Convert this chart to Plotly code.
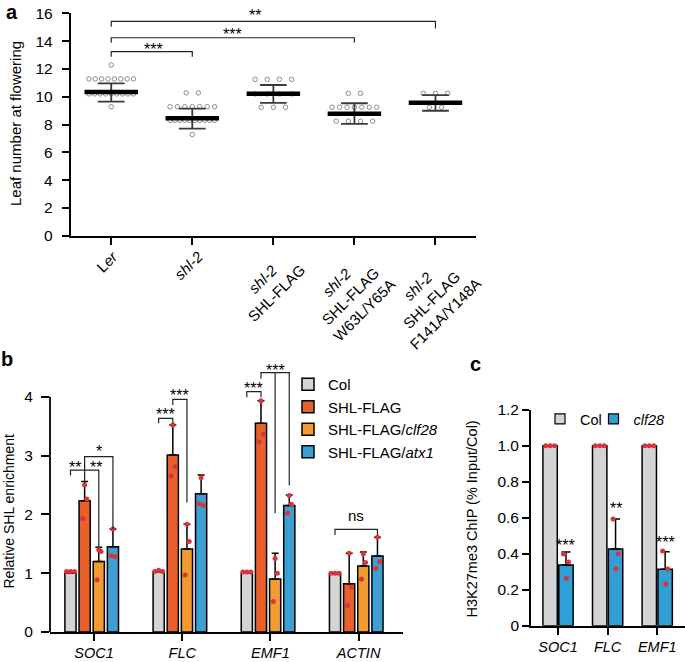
import plotly.graph_objects as go

FIG_W, FIG_H = 685, 662
FONT = "Liberation Sans, Arial, Helvetica, sans-serif"


def fx(px):
    return px / FIG_W


def fy(py):
    return 1 - py / FIG_H


# ======================= Panel a data =======================
a_ticktext = ["L<i>er</i>", "<i>shl-2</i>", "<i>shl-2</i><br>SHL-FLAG",
              "<i>shl-2</i><br>SHL-FLAG<br>W63L/Y65A",
              "<i>shl-2</i><br>SHL-FLAG<br>F141A/Y148A"]
a_ler = [12.28,
         11.28, 11.28, 11.28, 11.28, 11.28, 11.28, 11.28, 11.28,
         10.2, 10.2, 10.2, 10.2, 10.2, 10.2, 10.2, 10.2, 10.2,
         9.28]
a_shl2 = [10.28, 10.28,
          9.28, 9.28, 9.28, 9.28, 9.28, 9.28, 9.28,
          8.3, 8.3, 8.3, 8.3, 8.3, 8.3, 8.3, 8.3, 8.3, 8.3,
          7.28]
a_shl_flag = [11.25, 11.25, 11.25, 11.25,
              10.2, 10.2, 10.2, 10.2,
              9.24, 9.24, 9.24]
a_w63l = [10.24, 10.24,
          9.24, 9.24, 9.24, 9.24, 9.24, 9.24, 9.24,
          8.24, 8.24, 8.24, 8.24]
a_f141a = [10.24, 10.24, 10.24,
           9.24, 9.24]
a_values = [a_ler, a_shl2, a_shl_flag, a_w63l, a_f141a]
a_mean = [10.34, 8.45, 10.22, 8.78, 9.57]
a_sd_hi = [10.96, 9.14, 10.84, 9.53, 10.12]
a_sd_lo = [9.64, 7.70, 9.55, 8.04, 8.99]
a_yticks = [0, 2, 4, 6, 8, 10, 12, 14, 16]
A_YMAX = 16
# (group1, group2, bracket y, left leg end, right leg end, label, label x, label y)
a_sig = [(0, 1, 13.24, 12.88, 12.88, "***", 0.52, 13.65),
         (0, 3, 14.24, 13.88, 13.90, "***", 1.50, 14.73),
         (0, 4, 15.42, 15.04, 14.90, "**", 1.77, 16.10)]

# ======================= Panel b data =======================
b_ticktext = ["<i>SOC1</i>", "<i>FLC</i>", "<i>EMF1</i>", "<i>ACTIN</i>"]
b_series = ["Col", "SHL-FLAG", "SHL-FLAG/<i>clf28</i>", "SHL-FLAG/<i>atx1</i>"]
b_colors = ["#d4d4d4", "#e8612c", "#f29b30", "#3e9fd2"]
b_col = [1.00, 1.02, 1.00, 1.00]
b_shl = [2.23, 3.01, 3.55, 0.82]
b_clf = [1.20, 1.41, 0.90, 1.12]
b_atx = [1.45, 2.35, 2.15, 1.29]
b_col_err = [0.0, 0.0, 0.0, 0.0]
b_shl_err = [0.33, 0.51, 0.38, 0.52]
b_clf_err = [0.24, 0.42, 0.44, 0.24]
b_atx_err = [0.30, 0.32, 0.18, 0.32]
b_col_pts = [[1.03, 1.03, 1.03], [1.03, 1.05, 1.03], [1.02, 1.02, 1.02], [1.00, 1.00, 1.00]]
b_shl_pts = [[2.50, 2.26, 1.93], [3.52, 2.81, 2.65], [3.93, 3.36, 3.23], [1.34, 0.76, 0.45]]
b_clf_pts = [[1.40, 1.37, 0.89], [1.83, 1.54, 0.97], [1.25, 1.00, 0.52], [1.33, 1.18, 0.90]]
b_atx_pts = [[1.75, 1.28, 1.30], [2.62, 2.15, 2.18], [2.32, 2.17, 2.02], [1.61, 1.20, 1.08]]
b_values = [b_col, b_shl, b_clf, b_atx]
b_errors = [b_col_err, b_shl_err, b_clf_err, b_atx_err]
b_points = [b_col_pts, b_shl_pts, b_clf_pts, b_atx_pts]
b_yticks = [0, 1, 2, 3, 4]
# brackets: list of polylines of (gene, series, y)
b_brackets = [
    [(0, 0, 2.66), (0, 0, 2.75), (0, 2, 2.75), (0, 2, 1.44)],
    [(0, 1, 2.555), (0, 1, 2.98), (0, 3, 2.98), (0, 3, 1.75)],
    [(1, 0, 3.55), (1, 0, 3.63), (1, 1, 3.63), (1, 1, 3.55)],
    [(1, 1, 3.86), (1, 1, 3.955), (1, 2, 3.955), (1, 2, 2.20)],
    [(2, 0, 3.99), (2, 0, 4.085), (2, 1, 4.085), (2, 1, 3.99)],
    [(2, 1, 4.31), (2, 1, 4.41), (2, 3, 4.41), (2, 3, 2.49)],
    [(2, 2, 4.41), (2, 2, 2.02)],
    [(3, 0, 1.65), (3, 0, 1.745), (3, 3, 1.745), (3, 3, 1.65)],
]
# labels: (gene, series a, series b, y, text, px shift)
b_labels = [(0, 0, 1, 2.87, "**", -3), (0, 1, 2, 2.87, "**", 4), (0, 1, 3, 3.13, "*", 0),
            (1, 0, 1, 3.76, "***", 0), (1, 1, 2, 4.09, "***", 0),
            (2, 0, 1, 4.20, "***", 0), (2, 1, 3, 4.51, "***", 0),
            (3, 0, 3, 1.96, "ns", 0)]

# ======================= Panel c data =======================
c_ticktext = ["<i>SOC1</i>", "<i>FLC</i>", "<i>EMF1</i>"]
c_series = ["Col", "<i>clf28</i>"]
c_colors = ["#d4d4d4", "#2f9fd6"]
c_col = [1.0, 1.0, 1.0]
c_clf = [0.337, 0.426, 0.313]
c_clf_err = [0.073, 0.167, 0.098]
c_col_pts = [[1.0, 1.0, 1.0], [1.0, 1.0, 1.0], [1.0, 1.0, 1.0]]
c_clf_pts = [[0.398, 0.354, 0.263], [0.593, 0.400, 0.315], [0.415, 0.315, 0.232]]
c_sig = ["***", "**", "***"]
c_sig_y = [0.467, 0.674, 0.483]
c_yticks = [0, 0.2, 0.4, 0.6, 0.8, 1.0, 1.2]
c_yticktext = ["0", "0.2", "0.4", "0.6", "0.8", "1.0", "1.2"]

DOT_RED = "#d9343a"

fig = go.Figure()

# ---------------- Panel a traces ----------------
def row_offsets(n):
    step = 0.15 if n <= 4 else 0.55 / (n - 1)
    return [(k - (n - 1) / 2) * step for k in range(n)]


for gi, vals in enumerate(a_values):
    rows = {}
    for v in vals:
        rows[v] = rows.get(v, 0) + 1
    xs, ys = [], []
    for v, n in rows.items():
        for off in row_offsets(n):
            xs.append(gi + off)
            ys.append(v)
    fig.add_trace(go.Scatter(x=xs, y=ys, mode="markers", xaxis="x", yaxis="y",
                             marker=dict(symbol="circle-open", size=4.5, color="#8c8c8c",
                                         line=dict(width=1)),
                             showlegend=False, hoverinfo="skip"))

sx, sy = [], []
for gi in range(len(a_mean)):
    for yv in (a_sd_hi[gi], a_sd_lo[gi]):
        sx += [gi - 0.165, gi + 0.165, None]
        sy += [yv, yv, None]
    sx += [gi, gi, None]
    sy += [a_sd_lo[gi], a_sd_hi[gi], None]
fig.add_trace(go.Scatter(x=sx, y=sy, mode="lines", xaxis="x", yaxis="y",
                         line=dict(color="#3a3a3a", width=1.8),
                         showlegend=False, hoverinfo="skip"))
mx, my = [], []
for gi, m in enumerate(a_mean):
    mx += [gi - 0.33, gi + 0.33, None]
    my += [m, m, None]
fig.add_trace(go.Scatter(x=mx, y=my, mode="lines", xaxis="x", yaxis="y",
                         line=dict(color="black", width=4.5),
                         showlegend=False, hoverinfo="skip"))

A_PX_PER_UNIT = (235.7 - 13.3) / A_YMAX
bx_, by_ = [], []
annotations = []
for g1, g2, yb, l1, l2, lab, lx, ly in a_sig:
    bx_ += [g1, g1, g2, g2, None]
    by_ += [l1, yb, yb, l2, None]
    yin = min(ly, A_YMAX)
    annotations.append(dict(x=lx, y=yin, xref="x", yref="y", text=lab, showarrow=False,
                            font=dict(size=16, color="black", family=FONT),
                            xanchor="center", yanchor="middle",
                            yshift=-4 + (ly - yin) * A_PX_PER_UNIT))
fig.add_trace(go.Scatter(x=bx_, y=by_, mode="lines", xaxis="x", yaxis="y",
                         line=dict(color="#222222", width=1.2),
                         showlegend=False, hoverinfo="skip"))

# rotated category labels of panel a: block top just under the ticks,
# centred slightly left of each tick
for gi, lab in enumerate(a_ticktext):
    annotations.append(dict(x=gi, y=fy(235.7 + 9), xref="x", yref="paper", text=lab,
                            textangle=-45, showarrow=False, align="center",
                            xanchor="center", yanchor="top", xshift=-4,
                            font=dict(size=15, color="black", family=FONT)))

# ---------------- Panel b traces ----------------
B_PITCH, B_W, B_SHIFT = 0.1605, 0.1265, -0.027


def b_center(g, s):
    return g + B_SHIFT + (s - 1.5) * B_PITCH


b_genes = list(range(len(b_ticktext)))
for s in range(4):
    fig.add_trace(go.Bar(x=b_genes, y=b_values[s], width=B_W,
                         offset=B_SHIFT + (s - 1.5) * B_PITCH - B_W / 2,
                         xaxis="x2", yaxis="y2", name=b_series[s], legend="legend",
                         marker=dict(color=b_colors[s], line=dict(color="black", width=1.5)),
                         error_y=dict(type="data", array=b_errors[s],
                                      arrayminus=[0] * len(b_genes), symmetric=False,
                                      color="black", thickness=1.5, width=3.5,
                                      visible=(s > 0)),
                         hoverinfo="skip"))

jit_col = [-0.045, 0.0, 0.045]
jit_other = [0.0, 0.025, -0.02]
px_, py_ = [], []
for s in range(4):
    jit = jit_col if s == 0 else jit_other
    for g in b_genes:
        for k, v in enumerate(b_points[s][g]):
            px_.append(b_center(g, s) + jit[k])
            py_.append(v)
fig.add_trace(go.Scatter(x=px_, y=py_, mode="markers", xaxis="x2", yaxis="y2",
                         marker=dict(color=DOT_RED, size=5), cliponaxis=False,
                         showlegend=False, hoverinfo="skip"))

brx, bry = [], []
for poly in b_brackets:
    for g, s, yv in poly:
        brx.append(b_center(g, s))
        bry.append(yv)
    brx.append(None)
    bry.append(None)
fig.add_trace(go.Scatter(x=brx, y=bry, mode="lines", xaxis="x2", yaxis="y2",
                         line=dict(color="#222222", width=1.2),
                         showlegend=False, hoverinfo="skip"))
for g, s1, s2, yv, lab, sh in b_labels:
    is_ns = lab == "ns"
    annotations.append(dict(x=(b_center(g, s1) + b_center(g, s2)) / 2, y=yv,
                            xref="x2", yref="y2", text=lab, showarrow=False,
                            font=dict(size=15 if is_ns else 16, color="black", family=FONT),
                            xanchor="center", yanchor="middle",
                            xshift=sh, yshift=1 if is_ns else -4))

# ---------------- Panel c traces ----------------
C_W, C_OFF = 0.29, 0.16
c_genes = list(range(len(c_ticktext)))
c_vals = [c_col, c_clf]
c_errs = [[0, 0, 0], c_clf_err]
c_pts = [c_col_pts, c_clf_pts]
for s in range(2):
    ctr = -C_OFF if s == 0 else C_OFF
    fig.add_trace(go.Bar(x=c_genes, y=c_vals[s], width=C_W, offset=ctr - C_W / 2,
                         xaxis="x3", yaxis="y3", showlegend=False,
                         marker=dict(color=c_colors[s], line=dict(color="black", width=1.5)),
                         error_y=dict(type="data", array=c_errs[s], arrayminus=[0, 0, 0],
                                      symmetric=False, color="black", thickness=1.5,
                                      width=4.5, visible=(s == 1)),
                         hoverinfo="skip"))
jit_c = [[-0.09, 0.0, 0.09], [-0.05, 0.05, 0.01]]
cx, cy = [], []
for s in range(2):
    ctr = -C_OFF if s == 0 else C_OFF
    for g in c_genes:
        for k, v in enumerate(c_pts[s][g]):
            cx.append(g + ctr + jit_c[s][k])
            cy.append(v)
fig.add_trace(go.Scatter(x=cx, y=cy, mode="markers", xaxis="x3", yaxis="y3",
                         marker=dict(color=DOT_RED, size=5), cliponaxis=False,
                         showlegend=False, hoverinfo="skip"))
for g in c_genes:
    annotations.append(dict(x=g + C_OFF, y=c_sig_y[g], xref="x3", yref="y3",
                            text=c_sig[g], showarrow=False,
                            font=dict(size=16, color="black", family=FONT),
                            xanchor="center", yanchor="middle", yshift=-4))
# legend swatches for panel c
for s, lg in zip(range(2), ["legend2", "legend3"]):
    fig.add_trace(go.Scatter(x=[None], y=[None], mode="markers", xaxis="x3", yaxis="y3",
                             name=c_series[s], legend=lg,
                             marker=dict(symbol="square", size=10, color=c_colors[s],
                                         line=dict(color="black", width=1.2))))

# ---------------- Text annotations (titles, panel letters) ----------------
def paper_text(xp, yp, text, size, angle=0):
    return dict(x=fx(xp), y=fy(yp), xref="paper", yref="paper", text=text,
                textangle=angle, showarrow=False, xanchor="center", yanchor="middle",
                font=dict(size=size, family=FONT, color="black"))


annotations += [
    paper_text(15, 124, "Leaf number at flowering", 15, -90),
    paper_text(8.5, 512, "Relative SHL enrichment", 14, -90),
    paper_text(471.5, 519, "H3K27me3 ChIP (% Input/Col)", 14.5, -90),
    paper_text(12, 11.5, "<b>a</b>", 20),
    paper_text(7, 359, "<b>b</b>", 20),
    paper_text(475, 364, "<b>c</b>", 20),
]

axc = dict(showgrid=False, zeroline=False, linecolor="black", linewidth=1.8,
           ticks="outside", tickcolor="black", tickwidth=1.8, automargin=False)
tf = dict(family=FONT, color="black")

fig.update_layout(
    width=FIG_W, height=FIG_H,
    margin=dict(l=0, r=0, t=0, b=0, pad=0),
    paper_bgcolor="white", plot_bgcolor="white",
    font=dict(family=FONT, color="black"),
    barmode="overlay",
    xaxis=dict(domain=[fx(70.7), fx(476)], range=[-0.5, 4.5], anchor="y",
               tickvals=list(range(5)), showticklabels=False,
               ticklen=7, showline=True, **axc),
    yaxis=dict(domain=[fy(235.7), fy(13.3)], range=[0, A_YMAX], anchor="x",
               tickvals=a_yticks, ticklen=7, showline=True, ticklabelstandoff=6,
               tickfont=dict(size=15.5, **tf), **axc),
    xaxis2=dict(domain=[fx(50), fx(402.7)], range=[-0.5, 3.5], anchor="y2",
                tickvals=b_genes, ticktext=b_ticktext, ticklen=7, showline=True,
                tickfont=dict(size=14.5, **tf), **axc),
    yaxis2=dict(domain=[fy(632), fy(632 - 4.65 * 58.83)], range=[0, 4.65], anchor="x2",
                tickvals=b_yticks, ticklen=8, showline=False, ticklabelstandoff=5,
                tickfont=dict(size=15.5, **tf), **axc),
    xaxis3=dict(domain=[fx(531), 1.0], range=[-0.545, 2.56], anchor="y3",
                tickvals=c_genes, ticktext=c_ticktext, ticklen=7, showline=True,
                tickfont=dict(size=14.5, **tf), **axc),
    yaxis3=dict(domain=[fy(625.7), fy(409.7)], range=[0, 1.2], anchor="x3",
                tickvals=c_yticks, ticktext=c_yticktext, ticklen=7, showline=True,
                tickfont=dict(size=15.5, **tf), **axc),
    legend=dict(x=fx(288), y=fy(368), xanchor="left", yanchor="top",
                font=dict(size=15, family=FONT, color="black"), bgcolor="rgba(0,0,0,0)",
                tracegroupgap=0, itemclick=False),
    legend2=dict(x=fx(540), y=fy(403), xanchor="left", yanchor="top",
                 font=dict(size=14.5, family=FONT, color="black"), bgcolor="rgba(0,0,0,0)"),
    legend3=dict(x=fx(593.5), y=fy(403), xanchor="left", yanchor="top",
                 font=dict(size=14.5, family=FONT, color="black"), bgcolor="rgba(0,0,0,0)"),
    annotations=annotations,
    shapes=[dict(type="line", xref="x2 domain", yref="y2", x0=0, x1=0, y0=0, y1=4,
                 line=dict(color="black", width=1.8))],
)

fig.write_html("out.html", config={"displayModeBar": False},
               post_script="document.body.style.margin='0';document.body.style.padding='0';")
